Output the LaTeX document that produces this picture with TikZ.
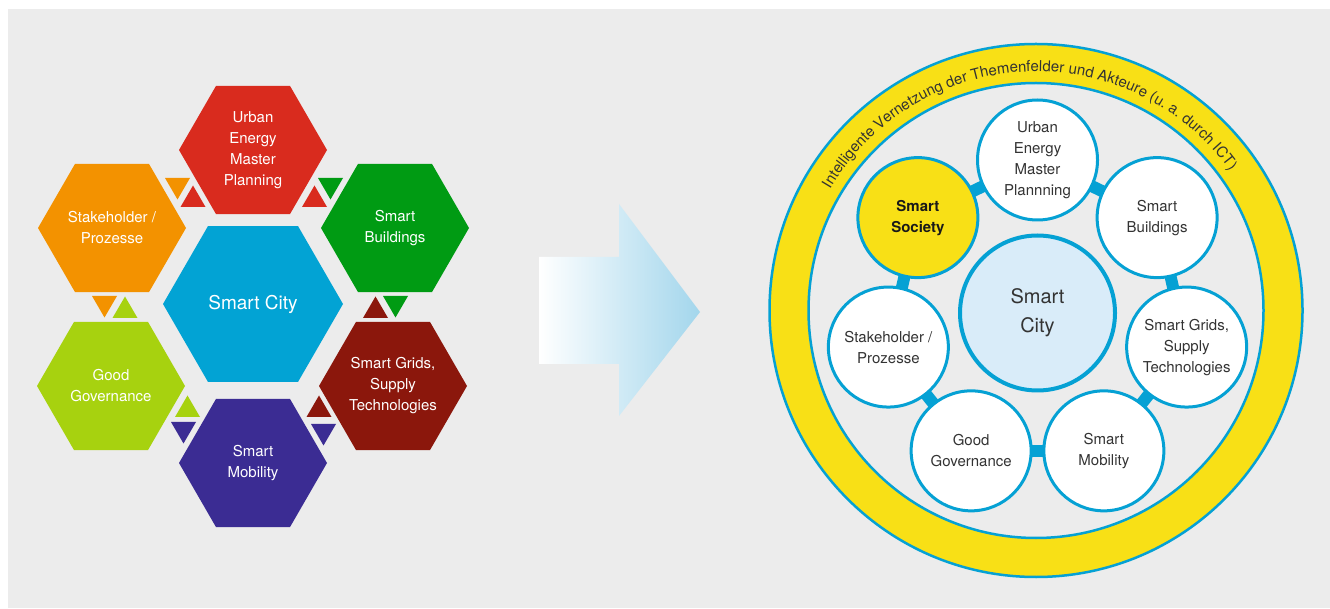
\documentclass[tikz,border=0pt]{standalone}
\usepackage{fontspec}
\setmainfont{TeX Gyre Heros}
\usepackage{xcolor}
\usepackage{tikz}
\usetikzlibrary{shapes.geometric,calc,backgrounds,decorations.text}

\definecolor{panelgrey}{HTML}{ECECEC}
\definecolor{hexred}{HTML}{D92B1E}
\definecolor{hexorange}{HTML}{F39200}
\definecolor{hexgreen}{HTML}{009B13}
\definecolor{hexblue}{HTML}{02A3D4}
\definecolor{hexlime}{HTML}{A7D20F}
\definecolor{hexdarkred}{HTML}{8B170C}
\definecolor{hexpurple}{HTML}{3B2C93}
\definecolor{ringyellow}{HTML}{F8E016}
\definecolor{ringblue}{HTML}{05A1D4}
\definecolor{cityfill}{HTML}{D9ECF9}
\definecolor{txtgrey}{HTML}{333333}
\definecolor{arrowblue}{HTML}{A3D6EC}

\begin{document}
\begin{tikzpicture}[x=1pt,y=1pt,
    hexa/.style={regular polygon, regular polygon sides=6, minimum size=148pt, inner sep=0pt, text=white, align=center, font=\fontsize{15}{21}\selectfont},
    bubble/.style={circle, draw=ringblue, line width=3pt, fill=white, minimum size=120pt, inner sep=0pt, align=center, text=txtgrey, font=\fontsize{15}{21}\selectfont},
    link/.style={ringblue, line width=12pt}]
    \useasboundingbox (0,0) rectangle (1330,608);

    % Hexagons
    \node[hexa, fill=hexblue, minimum size=180pt, font=\fontsize{19}{23}\selectfont] (cityhex) at (253,304) {Smart City};
    \node[hexa, fill=hexred] (urbanhex) at (253,458) {Urban\\Energy\\Master\\Planning};
    \node[hexa, fill=hexorange] (stakehex) at (112,380) {Stakeholder /\\Prozesse};
    \node[hexa, fill=hexgreen] (buildhex) at (395,380) {Smart\\Buildings};
    \node[hexa, fill=hexlime] (govhex) at (111,222) {Good\\Governance};
    \node[hexa, fill=hexdarkred] (gridhex) at (393,222) {Smart Grids,\\Supply\\Technologies};
    \node[hexa, fill=hexpurple] (mobhex) at (253,145) {Smart\\Mobility};

    % Exchange triangles
    \foreach \c/\x/\y in {hexred/193/401, hexred/314.5/401, hexlime/125/290, hexdarkred/375.5/290, hexlime/187.5/191, hexdarkred/319/191}
        \fill[\c] (\x-12.5,\y) -- (\x+12.5,\y) -- (\x,\y+21.5) -- cycle;
    \foreach \c/\x/\y in {hexorange/177.5/430, hexgreen/330.5/430, hexorange/104.5/312, hexgreen/395.5/312, hexpurple/183.5/186, hexpurple/323.5/184}
        \fill[\c] (\x-12.5,\y) -- (\x+12.5,\y) -- (\x,\y-21.5) -- cycle;

    % Arrow
    \shade[left color=white, right color=arrowblue] (539,351) -- (619,351) -- (619,404) -- (700,296) -- (619,192) -- (619,244) -- (539,244) -- cycle;

    % Circles
    \node[bubble, line width=4pt, fill=cityfill, minimum size=155pt, font=\fontsize{20}{29}\selectfont] (city) at (1037.5,295) {Smart\\City};
    \node[bubble] (urban) at ([shift={(90:153)}]city) {Urban\\Energy\\Master\\Plannning};
    \node[bubble] (buildings) at ([shift={(38.57:153)}]city) {Smart\\Buildings};
    \node[bubble] (grids) at ([shift={(-12.86:153)}]city) {Smart Grids,\\Supply\\Technologies};
    \node[bubble] (mobility) at ([shift={(-64.29:153)}]city) {Smart\\Mobility};
    \node[bubble] (governance) at ([shift={(-115.71:153)}]city) {Good\\Governance};
    \node[bubble] (stakeholder) at ([shift={(-167.14:153)}]city) {Stakeholder /\\Prozesse};
    \node[bubble, fill=ringyellow, text=black!90, font=\fontsize{15}{21}\selectfont\bfseries] (society) at ([shift={(141.43:153)}]city) {Smart\\Society};

    \begin{scope}[on background layer]
        \fill[panelgrey] (8,0) rectangle (1330,599);
        % Ring
        \coordinate (ring) at (1036,297.5);
        \fill[ringyellow, even odd rule] (ring) circle (266.5) (ring) circle (227.5);
        \draw[ringblue, line width=2.5pt] (ring) circle (266.5) (ring) circle (227.5);
        \foreach \a/\b in {society/urban, urban/buildings, buildings/grids, grids/mobility, mobility/governance, governance/stakeholder, stakeholder/society}
            \draw[link] (\a.center) -- (\b.center);
    \end{scope}

    % Ring text
    \path[decorate, decoration={text along path, text align=center,
        text={|\fontsize{15}{15}\selectfont\color{txtgrey}|Intelligente Vernetzung der Themenfelder und Akteure (u. a. durch ICT)}}]
        (ring) ++(182.6:239) arc[start angle=182.6, end angle=2.6, radius=239];
\end{tikzpicture}
\end{document}
